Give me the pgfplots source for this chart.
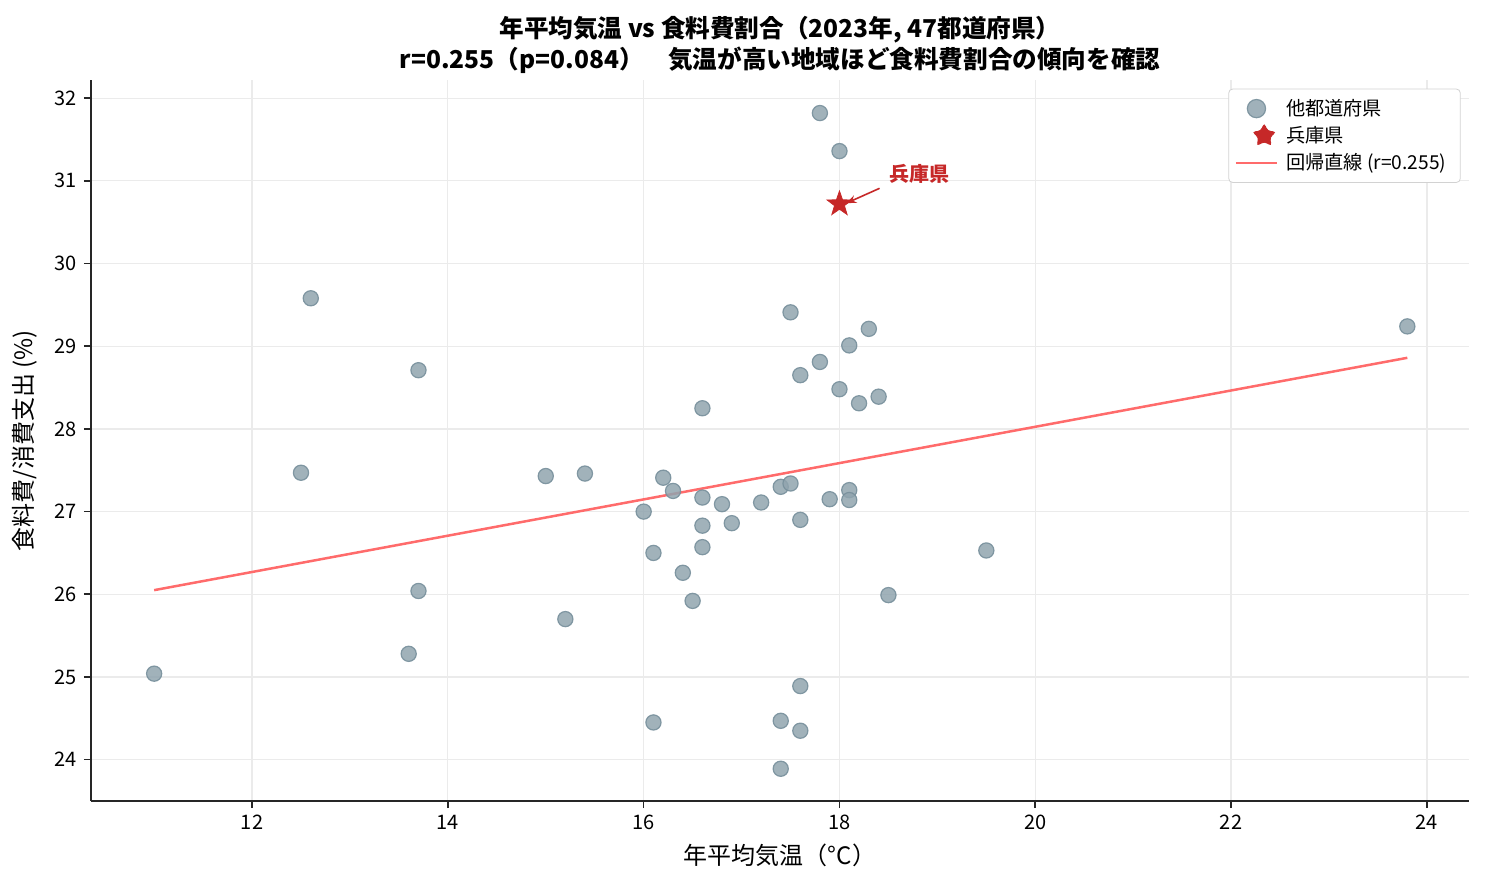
\documentclass[border=0pt]{standalone}
\usepackage{fontspec}
\setmainfont{Noto Sans CJK JP}
\usepackage{pgfplots}
\pgfplotsset{compat=1.18}
\usetikzlibrary{arrows.meta,shapes.geometric}

\definecolor{ptgray}{HTML}{90A4AE}
\definecolor{ptedge}{HTML}{78909C}
\definecolor{hyogo}{HTML}{C62828}
\definecolor{regline}{HTML}{FF6B6B}
\definecolor{spine}{HTML}{262626}
\definecolor{gridc}{HTML}{EBEBEB}

% filled five-pointed star
\pgfdeclareplotmark{fstar}{%
  \node[star, star points=5, star point ratio=2.5, fill=hyogo, draw=hyogo,
        inner sep=0pt, minimum size=13pt] {};}

\begin{document}
\begin{tikzpicture}
\begin{axis}[
  scale only axis,
  width=689pt, height=360.5pt,
  xmin=10.355, xmax=24.43,
  ymin=23.5, ymax=32.22,
  axis lines=left,
  axis line style={-, draw=spine, line width=0.9pt},
  xtick={12,14,...,24},
  ytick={24,25,...,32},
  tick align=outside,
  major tick length=3.5pt,
  tick style={draw=spine, line width=0.8pt},
  grid=major,
  major grid style={draw=gridc, line width=0.6pt},
  /pgf/number format/assume math mode=true,
  ticklabel style={font=\fontsize{10}{11}\selectfont},
  xlabel={年平均気温（°C）},
  ylabel={食料費/消費支出 (\%)},
  label style={font=\fontsize{12}{13}\selectfont},
  xlabel style={yshift=0pt},
  ylabel style={yshift=2pt},
  title={年平均気温 vs 食料費割合（2023年, 47都道府県）\\r=0.255（p=0.084）\quad 気温が高い地域ほど食料費割合の傾向を確認},
  title style={font=\bfseries\fontsize{12.3}{15.5}\selectfont, align=center, yshift=-6.5pt},
  legend style={at={(0.994,0.988)}, anchor=north east, draw=gray!35, rounded corners=2pt,
    font=\fontsize{9.6}{10}\selectfont, row sep=0pt, inner sep=3pt,
    nodes={inner xsep=4pt}},
  legend cell align=left,
  legend image post style={scale=1.2},
  clip=false,
]
% other prefectures
\addplot[only marks, mark=*, mark size=3.8pt,
  mark options={fill=ptgray, fill opacity=0.85, draw=ptedge, draw opacity=0.9, line width=0.6pt}]
coordinates {
(11.0,25.04) (12.6,29.58) (12.5,27.47) (13.7,28.71) (13.7,26.04) (13.6,25.28)
(15.0,27.43) (15.4,27.46) (15.2,25.70) (16.0,27.00) (16.1,26.50) (16.1,24.45)
(16.2,27.41) (16.3,27.25) (16.4,26.26) (16.5,25.92) (16.6,28.25) (16.6,27.17)
(16.6,26.83) (16.6,26.57) (16.8,27.09) (16.9,26.86) (17.2,27.11) (17.4,27.30)
(17.4,24.47) (17.4,23.89) (17.5,29.41) (17.5,27.34) (17.6,28.65) (17.6,26.90)
(17.6,24.89) (17.6,24.35) (17.8,31.82) (17.8,28.81) (17.9,27.15) (18.0,31.36)
(18.0,28.48) (18.1,29.01) (18.1,27.26) (18.1,27.14) (18.2,28.31) (18.3,29.21)
(18.4,28.39) (18.5,25.99) (19.5,26.53) (23.8,29.24)
};
\addlegendentry{他都道府県}
% Hyogo
\addplot[only marks, mark=fstar] coordinates {(18.0,30.72)};
\addlegendentry{兵庫県}
% regression line
\addplot[regline, line width=1.25pt, no marks] coordinates {(11.0,26.05) (23.8,28.86)};
\addlegendentry{回帰直線 (r=0.255)}

\draw[-{Stealth[length=5pt,width=4pt]}, hyogo, line width=0.8pt]
  (axis cs:18.41,30.91) -- (axis cs:18.07,30.73);
\node[text=hyogo, font=\bfseries\fontsize{10}{11}\selectfont] at (axis cs:18.82,31.08) {兵庫県};

\coordinate (ll) at (rel axis cs:0,0);
\coordinate (ur) at (rel axis cs:1,1);
\end{axis}
\pgfresetboundingbox
\path[use as bounding box] ([shift={(-45.5pt,-41.5pt)}]ll) rectangle ([shift={(8pt,40pt)}]ur);
\end{tikzpicture}
\end{document}
